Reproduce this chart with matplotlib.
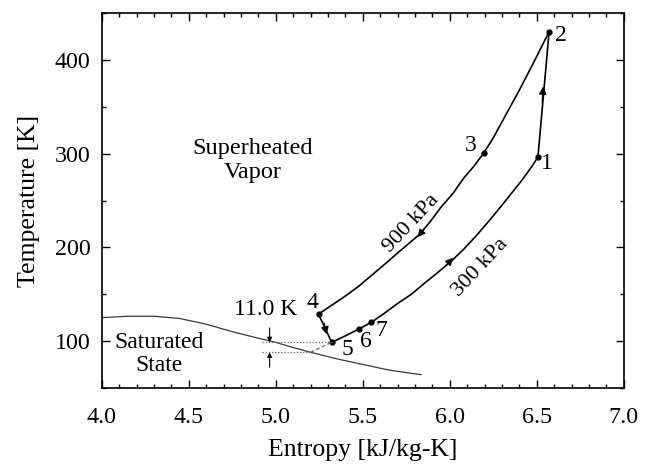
import matplotlib
matplotlib.use("Agg")
import matplotlib.pyplot as plt
from matplotlib.ticker import MultipleLocator

plt.rcParams['font.family'] = ['Liberation Serif', 'DejaVu Serif']
plt.rcParams['mathtext.fontset'] = 'stix'

# ---- data ----
s_900 = [5.246, 5.32, 5.40, 5.48, 5.55, 5.62, 5.70, 5.77, 5.827, 5.89, 5.95, 6.02,
         6.08, 6.14, 6.196, 6.25, 6.30, 6.35, 6.40, 6.45, 6.50, 6.54, 6.571]
T_900 = [128.7, 138, 148, 159, 170, 181, 194, 205, 214, 228, 243, 258,
         274, 287, 301, 317, 334, 351, 368, 386, 404, 419, 430]

s_300 = [5.322, 5.40, 5.48, 5.549, 5.62, 5.70, 5.78, 5.85, 5.93, 6.013, 6.08,
         6.15, 6.22, 6.30, 6.36, 6.42, 6.47, 6.507]
T_300 = [98.6, 105.5, 113, 120, 129, 140, 150, 161, 173, 186, 198,
         212, 227, 245, 259, 273, 286, 296.5]

s_12 = [6.507, 6.571]
T_12 = [296.5, 430]
s_45 = [5.246, 5.322]
T_45 = [128.7, 98.6]

s_sat = [4.0, 4.15, 4.3, 4.45, 4.6, 4.75, 4.9, 5.0, 5.1, 5.2, 5.35, 5.5, 5.65, 5.835]
T_sat = [125, 126.5, 126.5, 124, 118, 110, 103, 98.6, 93, 88, 81, 75, 69, 64]

state_ids = ['1', '2', '3', '4', '5', '6', '7']
state_s = [6.507, 6.571, 6.196, 5.246, 5.322, 5.48, 5.549]
state_T = [296.5, 430, 300.7, 128.7, 98.6, 113, 120]
label_s = [6.56, 6.64, 6.12, 5.21, 5.41, 5.52, 5.61]
label_T = [290, 427, 309, 141, 91, 99, 111]

fig = plt.figure(figsize=(6.52, 4.65), dpi=100)
ax = fig.add_axes([0.156, 0.166, 0.8006, 0.805])

lc = 'black'
ax.plot(s_sat, T_sat, color='#3a3a3a', lw=0.9)
ax.plot(s_900, T_900, color=lc, lw=1.2)
ax.plot(s_300, T_300, color=lc, lw=1.2)
ax.plot(s_12, T_12, color=lc, lw=1.2)
ax.plot(s_45, T_45, color=lc, lw=1.2)
ax.plot(state_s, state_T, 'o', color=lc, ms=3.5)

# dotted guides and dashed connection
ax.plot([4.92, 5.322], [98.6, 98.6], color='#666666', lw=0.9, ls=(0, (1, 1.5)))
ax.plot([4.92, 5.2], [88, 88], color='#666666', lw=0.9, ls=(0, (1, 1.5)))
ax.plot([5.2, 5.322], [88, 98.6], color='#666666', lw=0.9, ls=(0, (3, 2)))

# direction arrows
def arr(p0, p1):
    ax.annotate('', xy=p1, xytext=p0,
                arrowprops=dict(arrowstyle='-|>', color='black', lw=1.0,
                                mutation_scale=11, shrinkA=0, shrinkB=0))

arr((6.532, 355), (6.537, 372))
arr((5.855, 220), (5.815, 211))
arr((5.98, 181), (6.02, 189))
arr((5.278, 119), (5.293, 107))

# 11.0 K annotation arrows
ax.annotate('', xy=(4.965, 98.6), xytext=(4.965, 114),
            arrowprops=dict(arrowstyle='-|>', color='black', lw=0.8,
                            mutation_scale=7, shrinkA=0, shrinkB=0))
ax.annotate('', xy=(4.965, 88), xytext=(4.965, 72),
            arrowprops=dict(arrowstyle='-|>', color='black', lw=0.8,
                            mutation_scale=7, shrinkA=0, shrinkB=0))
ax.text(4.94, 134, '11.0 K', ha='center', va='center', fontsize=17)

for lab, xs, ys in zip(state_ids, label_s, label_T):
    ax.text(xs, ys, lab, ha='center', va='center', fontsize=17)

ax.text(5.78, 226, '900 kPa', rotation=47, ha='center', va='center', fontsize=16)
ax.text(6.174, 179, '300 kPa', rotation=47, ha='center', va='center', fontsize=16)
ax.text(4.87, 293, 'Superheated\nVapor', ha='center', va='center', fontsize=17.5,
        linespacing=1.2)
ax.text(4.33, 86, 'Saturated\nState', ha='center', va='center', fontsize=17,
        linespacing=1.15)

ax.set_xlim(4.0, 7.0)
ax.set_ylim(50, 450)
ax.xaxis.set_minor_locator(MultipleLocator(0.1))
ax.yaxis.set_minor_locator(MultipleLocator(50))
ax.set_xticks([4.0, 4.5, 5.0, 5.5, 6.0, 6.5, 7.0])
ax.set_xticklabels(['4.0', '4.5', '5.0', '5.5', '6.0', '6.5', '7.0'])
ax.set_yticks([100, 200, 300, 400])
ax.tick_params(which='both', direction='in', top=True, right=True, labelsize=17.3)
ax.tick_params(axis='x', which='major', pad=14)
ax.tick_params(axis='y', which='major', pad=8)
ax.tick_params(which='major', length=6, width=1.0)
ax.tick_params(which='minor', length=3, width=1.0)
for sp in ax.spines.values():
    sp.set_linewidth(1.2)

ax.set_xlabel('Entropy [kJ/kg-K]', fontsize=18.5, labelpad=8)
ax.set_ylabel('Temperature [K]', fontsize=18.5, labelpad=11)

fig.savefig('out.png', dpi=100)
